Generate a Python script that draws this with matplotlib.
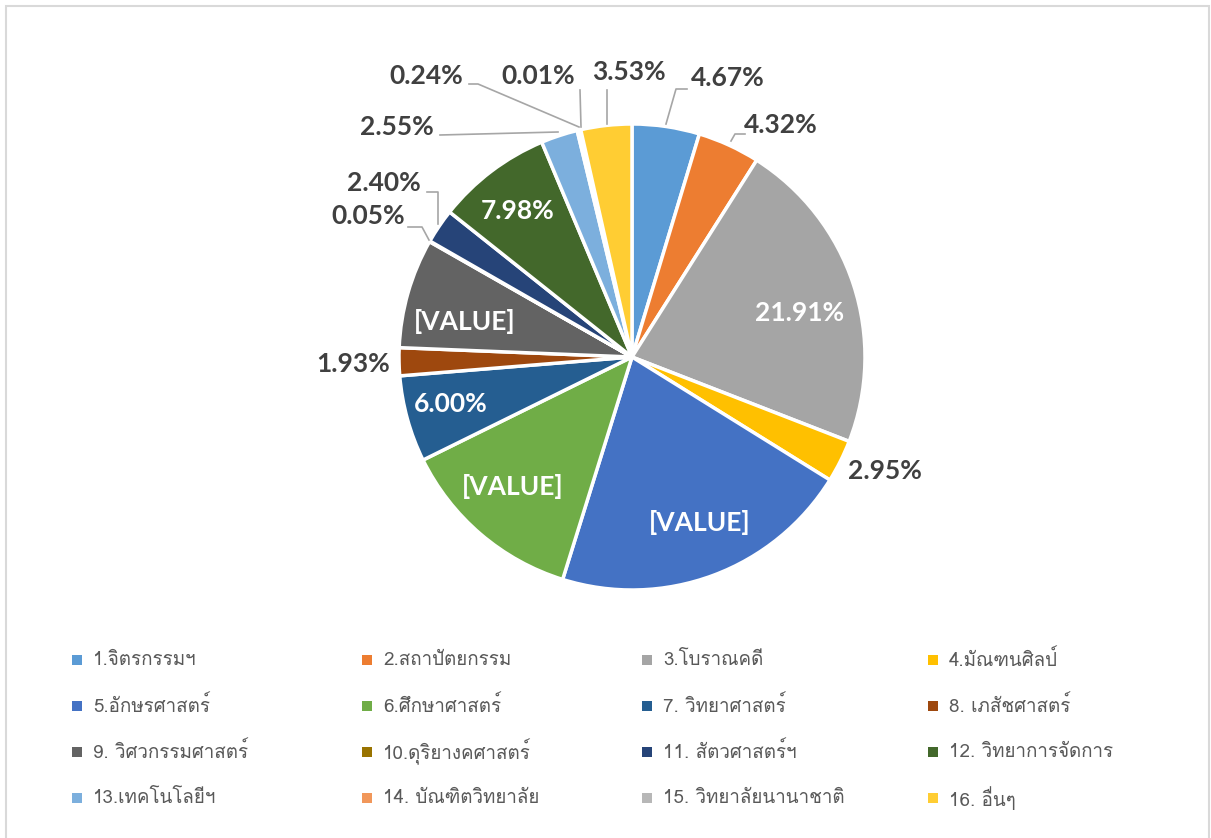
import matplotlib
matplotlib.use("Agg")
import matplotlib.pyplot as plt
from matplotlib import font_manager as fm
from matplotlib.ft2font import FT2Font
from matplotlib.patches import Rectangle
import numpy as np

# Data
categories = ["1.จิตรกรรมฯ", "2.สถาปัตยกรรม", "3.โบราณคดี", "4.มัณฑนศิลป์",
              "5.อักษรศาสตร์", "6.ศึกษาศาสตร์", "7. วิทยาศาสตร์", "8. เภสัชศาสตร์",
              "9. วิศวกรรมศาสตร์", "10.ดุริยางคศาสตร์", "11. สัตวศาสตร์ฯ", "12. วิทยาการจัดการ",
              "13.เทคโนโลยีฯ", "14. บัณฑิตวิทยาลัย", "15. วิทยาลัยนานาชาติ", "16. อื่นๆ"]
values = [4.67, 4.32, 21.91, 2.95, 20.96, 12.90, 6.00, 1.93,
          7.60, 0.05, 2.40, 7.98, 2.55, 0.24, 0.01, 3.53]
labels = ["4.67%", "4.32%", "21.91%", "2.95%", "[VALUE]", "[VALUE]", "6.00%", "1.93%",
          "[VALUE]", "0.05%", "2.40%", "7.98%", "2.55%", "0.24%", "0.01%", "3.53%"]
colors = ["#5B9BD5", "#ED7D31", "#A5A5A5", "#FFC000", "#4472C4", "#70AD47", "#255E91", "#9E480E",
          "#636363", "#997300", "#264478", "#43682B", "#7CAFDD", "#F1975A", "#B7B7B7", "#FFCD33"]
inside = [2, 4, 5, 6, 8, 11]

# find a font with Thai glyphs
thai_font = None
for f in fm.fontManager.ttflist:
    try:
        if 0x0E08 in FT2Font(f.fname).get_charmap():
            thai_font = f.name
            break
    except Exception:
        pass
legend_family = ([thai_font] if thai_font else []) + ["DejaVu Sans"]

W, H = 1211, 838
fig = plt.figure(figsize=(W / 100, H / 100), dpi=100)
fig.patches.append(Rectangle((6 / W, -0.01), (1209 - 6) / W, (838 - 6) / H + 0.01,
                             transform=fig.transFigure, fill=False,
                             edgecolor="#D9D9D9", linewidth=1.5))

# pie axes: center (632, 357) px, radius 233 px
cx, cy, R = 632, 357, 233
ax = fig.add_axes([300 / W, 1 - 620 / H, 664 / W, 580 / H])

wedges, _ = ax.pie(values, colors=colors, startangle=90, counterclock=False, radius=1,
                   wedgeprops=dict(edgecolor="white", linewidth=2.5))
ax.set_aspect("auto")
ax.set_xlim((300 - cx) / R, (964 - cx) / R)
ax.set_ylim((cy - 620) / R, (cy - 40) / R)
ax.axis("off")


def px(x, y):
    return (x - cx) / R, (cy - y) / R


# label positions (px)
label_pos = [(728, 78), (781, 125), (800, 313), (885, 471), (700, 522), (513, 486),
             (451, 404), (353, 364), (465, 321), (368, 216), (384, 183), (518, 211),
             (397, 127), (426, 76), (538, 76), (629, 72)]
# leader lines: start on wedge edge (px), then elbow/end points (px)
leaders = {
    0: [(666, 124), (676, 89), (687, 89)],
    1: [(731, 141), (735, 134), (745, 134)],
    9: [(429, 240), (422, 227), (408, 227)],
    10: [(438, 224), (438, 192), (427, 192)],
    12: [(558, 132), (440, 135)],
    13: [(579, 127), (478, 84), (469, 84)],
    14: [(581, 127), (580, 90)],
    15: [(607, 124), (607, 90)],
}
for i, pts in leaders.items():
    xs, ys = zip(*[px(*p) for p in pts])
    ax.plot(xs, ys, color="#A6A6A6", linewidth=1.2, clip_on=False)

for i, lab in enumerate(labels):
    x, y = px(*label_pos[i])
    ax.text(x, y, lab, ha="center", va="center", fontsize=19, fontweight="bold",
            family=["Lato", "DejaVu Sans"],
            color="white" if i in inside else "#404040", clip_on=False)

# legend (row-major, 4 columns)
col_x = [77, 367, 647, 933]
row_y = [660, 706, 752, 798]
for i, (cat, col) in enumerate(zip(categories, colors)):
    r, c = divmod(i, 4)
    x0, y0 = col_x[c], row_y[r]
    fig.patches.append(Rectangle(((x0 - 5) / W, 1 - (y0 + 5) / H), 10 / W, 10 / H,
                                 transform=fig.transFigure, facecolor=col, edgecolor="none"))
    fig.text((x0 + 16) / W, 1 - y0 / H, cat, ha="left", va="center", fontsize=13.5,
             family=legend_family, color="#595959")

fig.savefig("out.png", dpi=100)
